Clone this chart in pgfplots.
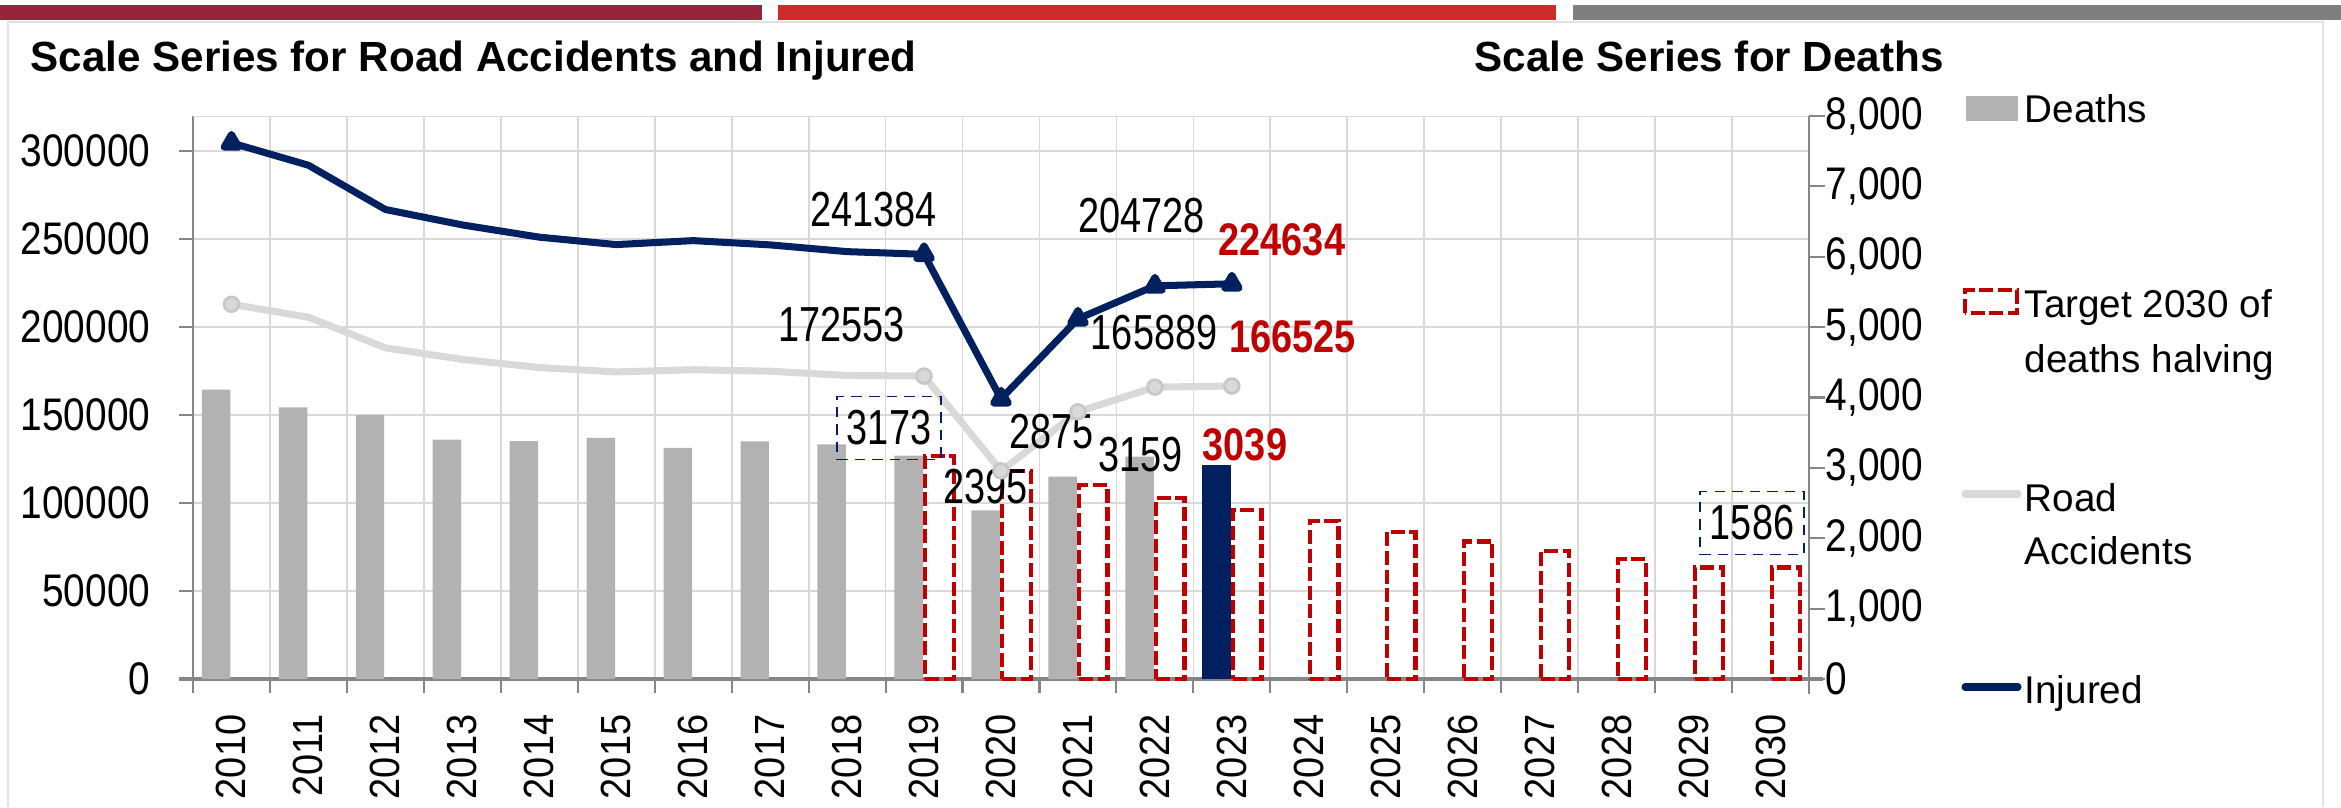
\documentclass[border=0pt]{standalone}
\usepackage{fontspec}
\setmainfont{Liberation Sans}
\newfontfamily\labf{Liberation Sans}[FakeStretch=0.77]
\newfontfamily\redf{Liberation Sans}[FakeStretch=0.83]
\newfontfamily\tickf{Liberation Sans}[FakeStretch=0.85]
\newfontfamily\xtf{Liberation Sans}[FakeStretch=0.9]
\usepackage{pgfplots}
\usepackage{pgfplotstable}
\pgfplotsset{compat=1.18}

\definecolor{navy}{RGB}{0,32,96}
\definecolor{redc}{RGB}{192,0,0}
\definecolor{deathc}{RGB}{178,178,178}
\definecolor{accc}{RGB}{217,217,217}
\definecolor{accdk}{RGB}{200,200,200}
\definecolor{gridc}{RGB}{217,217,217}
\definecolor{axc}{RGB}{134,134,134}
\definecolor{frame}{RGB}{225,225,225}
\definecolor{bar1}{RGB}{149,36,58}
\definecolor{bar2}{RGB}{204,44,44}
\definecolor{bar3}{RGB}{127,127,127}

% x = category index (0 = 2010 ... 20 = 2030)
\pgfplotstableread{
x injured accidents
0  304720 212997
1  292019 205638
2  266864 188228
3  258093 181660
4  251147 177031
5  246920 174539
6  249175 175791
7  246750 174933
8  242919 172553
9  241384 172183
10 159248 118298
11 204728 151875
12 223475 165889
13 224634 166525
}\linedata

\pgfplotstableread{
x deaths
0  4114
1  3860
2  3753
3  3401
4  3381
5  3428
6  3283
7  3378
8  3334
9  3173
10 2395
11 2875
12 3159
}\deathdata

\pgfplotstableread{
x target
9  3173
10 2960
11 2762
12 2577
13 2404
14 2243
15 2093
16 1953
17 1822
18 1700
19 1586
20 1586
}\targetdata

\pgfplotsset{
  base/.style={scale only axis, width=161.6mm, height=56.3mm,
    xmin=-0.5, xmax=20.5, at={(19.3mm,12.8mm)}, anchor=south west},
}
\tikzset{
  lab/.style={inner sep=0pt, font=\labf\fontsize{14}{14}\selectfont},
  redlab/.style={inner sep=0pt, text=redc, font=\redf\bfseries\fontsize{13}{13}\selectfont},
  boxlab/.style={lab, draw=navy, densely dashed, line width=0.5pt,
    minimum width=10.4mm, minimum height=6.3mm},
}

\begin{document}
\begin{tikzpicture}
\path[use as bounding box] (0,0) rectangle (234.1mm,80.7mm);

% header bands and frame (units: 0.1 mm, y up)
\begin{scope}[x=0.1mm, y=0.1mm]
\fill[bar1] (0,787) rectangle (762,802);
\fill[bar2] (778,787) rectangle (1556,802);
\fill[bar3] (1573,787) rectangle (2341,802);
\draw[frame, line width=0.4pt] (8,0) -- (8,785) -- (2323,785) -- (2323,0);
\node[anchor=base west, inner sep=0pt, font=\bfseries\fontsize{12}{14}\selectfont]
  at (30,735) {Scale Series for Road Accidents and Injured};
\node[anchor=base west, inner sep=0pt, font=\bfseries\fontsize{12}{14}\selectfont]
  at (1474,735) {Scale Series for Deaths};
\end{scope}

% grid, left axis and categories
\begin{axis}[base, ymin=0, ymax=320000, scaled y ticks=false,
  axis x line*=bottom, axis y line*=left, axis line style={-},
  x axis line style={axc, line width=1.1pt, shorten <=-1.4mm, shorten >=-1.4mm},
  y axis line style={axc, line width=0.8pt},
  tick align=outside, major tick length=1.4mm, minor tick length=1.4mm,
  xtick={0,...,20},
  xticklabels={2010,2011,2012,2013,2014,2015,2016,2017,2018,2019,2020,
    2021,2022,2023,2024,2025,2026,2027,2028,2029,2030},
  major x tick style={draw=none},
  minor xtick={-0.5,0.5,...,20.5},
  minor x tick style={axc, line width=0.6pt},
  xmajorgrids=false, xminorgrids=true,
  ytick={0,50000,100000,150000,200000,250000,300000},
  yticklabels={0,50000,100000,150000,200000,250000,300000},
  ytick style={axc, line width=0.6pt},
  ymajorgrids=true,
  major grid style={gridc, line width=0.5pt},
  minor grid style={gridc, line width=0.5pt},
  xticklabel style={rotate=90, anchor=east, inner sep=0pt, xshift=-2.1mm,
    font=\xtf\fontsize{12}{12}\selectfont},
  yticklabel style={anchor=east, inner sep=0pt, xshift=-2.8mm,
    font=\tickf\fontsize{13}{13}\selectfont},
]
\draw[gridc, line width=0.5pt] (rel axis cs:0,1) -- (rel axis cs:1,1);
\end{axis}

% deaths and target bars, right axis
\begin{axis}[base, ymin=0, ymax=8000, clip=false,
  axis x line=none, axis y line*=right, axis line style={-},
  y axis line style={axc, line width=0.8pt, shorten <=-1.5mm},
  tick align=outside, major tick length=1.6mm,
  ytick={0,1000,...,8000},
  yticklabels={0,{1,000},{2,000},{3,000},{4,000},{5,000},{6,000},{7,000},{8,000}},
  ytick style={axc, line width=0.6pt},
  yticklabel style={anchor=west, inner sep=0pt,
    font=\tickf\fontsize{13}{13}\selectfont},
]
\addplot[ybar, bar width=0.37, bar shift=-0.2, fill=deathc, draw=none]
  table[x=x, y=deaths] {\deathdata};
\addplot[ybar, bar width=0.37, bar shift=-0.2, fill=navy, draw=none]
  coordinates {(13,3039)};
\addplot[ybar, bar width=0.37, bar shift=0.2, fill=none, draw=redc,
  line width=1.2pt, dash pattern=on 4pt off 1.3pt]
  table[x=x, y=target] {\targetdata};
\end{axis}

% road accidents and injured lines, data labels
\begin{axis}[base, ymin=0, ymax=320000, hide axis, clip=false]
\addplot[accc, line width=2pt, line join=round, mark=*,
  mark indices={1,10,11,12,13,14}, mark size=2.1pt,
  mark options={fill=accc, draw=accdk, line width=0.8pt}]
  table[x=x, y=accidents] {\linedata};
\addplot[navy, line width=2pt, line join=round, mark=triangle*,
  mark indices={1,10,11,12,13,14}, mark size=2.4pt,
  mark options={fill=navy}]
  table[x=x, y=injured] {\linedata};

\node[lab] at (axis cs:8.34,267100) {241384};
\node[lab] at (axis cs:7.93,201200) {172553};
\node[lab] at (axis cs:11.83,263200) {204728};
\node[lab] at (axis cs:11.99,196700) {165889};
\node[redlab] at (axis cs:13.65,249500) {224634};
\node[redlab] at (axis cs:13.79,194400) {166525};

\node[boxlab] at (axis cs:8.545,142700) {3173};
\node[lab] at (axis cs:9.80,109130) {2395};
\node[lab] at (axis cs:10.66,140400) {2875};
\node[lab] at (axis cs:11.81,127300) {3159};
\node[redlab] at (axis cs:13.17,133230) {3039};
\node[boxlab] at (axis cs:19.76,88670) {1586};
\end{axis}

% legend
\begin{scope}[x=0.1mm, y=0.1mm]
\fill[deathc] (1966,686) rectangle (2018,711);
\draw[redc, line width=1.2pt, dash pattern=on 4pt off 1.3pt] (1965,494) rectangle (2017,517);
\draw[accc, line width=2pt, line cap=round] (1965,313) -- (2018,313);
\draw[navy, line width=2pt, line cap=round] (1965,120) -- (2018,120);
\begin{scope}[every node/.style={anchor=base west, inner sep=0pt,
    font=\fontsize{11}{13}\selectfont}]
\node at (2024,684) {Deaths};
\node at (2024,490) {Target 2030 of};
\node at (2024,435) {deaths halving};
\node at (2024,296) {Road};
\node at (2024,243) {Accidents};
\node at (2024,104) {Injured};
\end{scope}
\end{scope}
\end{tikzpicture}
\end{document}
